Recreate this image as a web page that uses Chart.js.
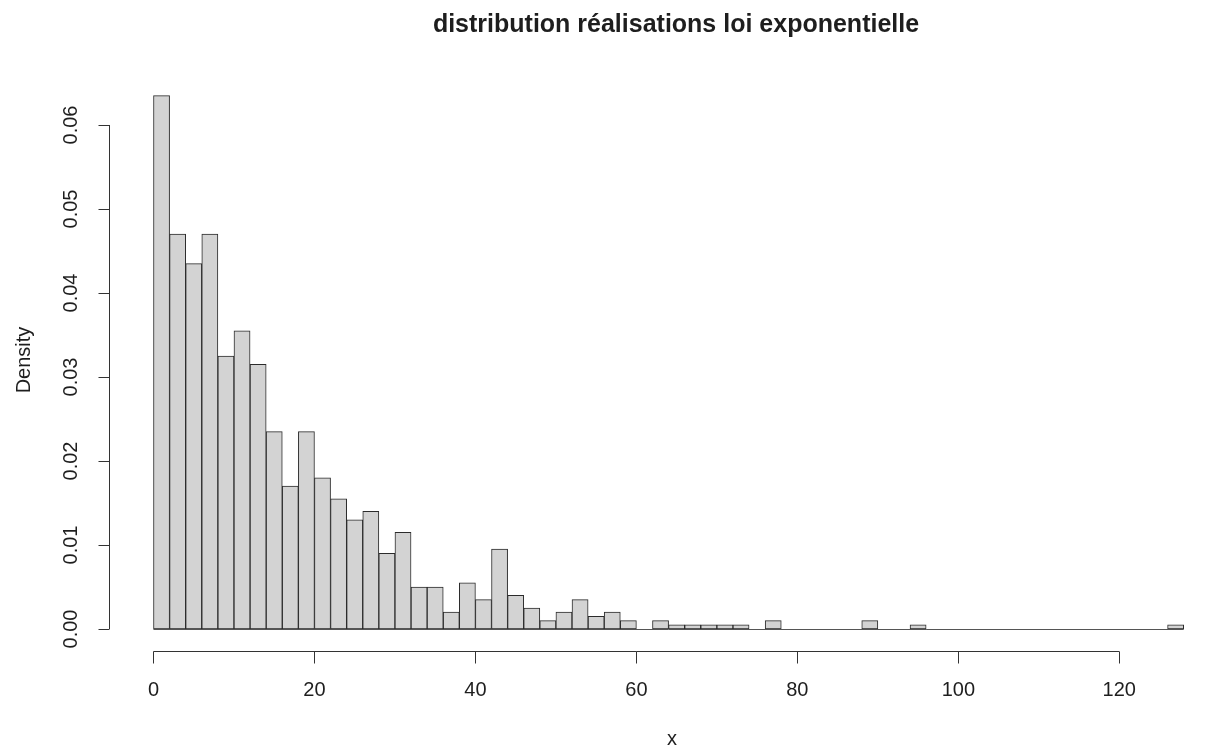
<!DOCTYPE html>
<html>
<head>
<meta charset="utf-8">
<script src="https://cdn.jsdelivr.net/npm/chart.js@4.4.1/dist/chart.umd.min.js"></script>
<style>
html,body{margin:0;padding:0;background:#ffffff;}
#wrap{width:1216px;height:754px;}
</style>
</head>
<body>
<div id="wrap"><canvas id="c" width="1216" height="754"></canvas></div>
<script>
// ---- data ----
const chartTitle = "distribution réalisations loi exponentielle";
const xTitle = "x";
const yTitle = "Density";
const binWidth = 2;
const binLeft = [0,2,4,6,8,10,12,14,16,18,20,22,24,26,28,30,32,34,36,38,40,42,44,46,48,50,52,54,56,58,60,62,64,66,68,70,72,74,76,78,80,82,84,86,88,90,92,94,96,98,100,102,104,106,108,110,112,114,116,118,120,122,124,126];
const density = [0.0635,0.047,0.0435,0.047,0.0325,0.0355,0.0315,0.0235,0.017,0.0235,
                 0.018,0.0155,0.013,0.014,0.009,0.0115,0.005,0.005,0.002,0.0055,
                 0.0035,0.0095,0.004,0.0025,0.001,0.002,0.0035,0.0015,0.002,0.001,
                 0,0.001,0.0005,0.0005,0.0005,0.0005,0.0005,0,0.001,0,
                 0,0,0,0,0.001,0,0,0.0005,0,0,
                 0,0,0,0,0,0,0,0,0,0,
                 0,0,0,0.0005];
const xTickValues = [0,20,40,60,80,100,120];
const xTickLabels = ["0","20","40","60","80","100","120"];
const yTickValues = [0,0.01,0.02,0.03,0.04,0.05,0.06];
const yTickLabels = ["0.00","0.01","0.02","0.03","0.04","0.05","0.06"];

const FONT = '"Liberation Sans", Arial, Helvetica, sans-serif';
const TEXT = '#1e1e1e';
const AXIS = '#333333';

const rAxes = {
  id: 'rAxes',
  afterDatasetsDraw(chart) {
    const ctx = chart.ctx;
    const xs = chart.scales.x, ys = chart.scales.y;
    const ca = chart.chartArea;
    ctx.save();
    // baseline under all bins (R draws zero-height bins as lines)
    ctx.strokeStyle = '#555555';
    ctx.lineWidth = 1;
    ctx.beginPath();
    const y0 = Math.round(ys.getPixelForValue(0)) + 0.5;
    ctx.moveTo(xs.getPixelForValue(binLeft[0]), y0);
    ctx.lineTo(xs.getPixelForValue(binLeft[binLeft.length-1] + binWidth), y0);
    ctx.stroke();

    ctx.strokeStyle = AXIS;
    ctx.lineWidth = 1;
    // x axis
    const xa = Math.round(ca.bottom) + 0.5;
    ctx.beginPath();
    ctx.moveTo(xs.getPixelForValue(xTickValues[0]), xa);
    ctx.lineTo(xs.getPixelForValue(xTickValues[xTickValues.length-1]), xa);
    xTickValues.forEach(v => {
      const px = Math.round(xs.getPixelForValue(v)) + 0.5;
      ctx.moveTo(px, xa);
      ctx.lineTo(px, xa + 12);
    });
    ctx.stroke();
    // y axis
    const ya = Math.round(ca.left) + 0.5;
    ctx.beginPath();
    ctx.moveTo(ya, ys.getPixelForValue(yTickValues[0]));
    ctx.lineTo(ya, ys.getPixelForValue(yTickValues[yTickValues.length-1]));
    yTickValues.forEach(v => {
      const py = Math.round(ys.getPixelForValue(v)) + 0.5;
      ctx.moveTo(ya, py);
      ctx.lineTo(ya - 11, py);
    });
    ctx.stroke();

    ctx.fillStyle = TEXT;
    ctx.font = '20px ' + FONT;
    ctx.textAlign = 'center';
    ctx.textBaseline = 'alphabetic';
    xTickValues.forEach((v, i) => {
      ctx.fillText(xTickLabels[i], xs.getPixelForValue(v), ca.bottom + 45);
    });
    yTickValues.forEach((v, i) => {
      ctx.save();
      ctx.translate(ca.left - 32, ys.getPixelForValue(v));
      ctx.rotate(-Math.PI/2);
      ctx.fillText(yTickLabels[i], 0, 0);
      ctx.restore();
    });
    // axis titles
    ctx.fillText(xTitle, 672, 745);
    ctx.save();
    ctx.translate(30, 360);
    ctx.rotate(-Math.PI/2);
    ctx.fillText(yTitle, 0, 0);
    ctx.restore();
    // main title
    ctx.font = 'bold 25px ' + FONT;
    ctx.fillText(chartTitle, 676, 32);
    ctx.restore();
  }
};

new Chart(document.getElementById('c'), {
  type: 'bar',
  data: {
    datasets: [{
      data: binLeft.map((l, i) => ({ x: l + binWidth/2, y: density[i] })),
      backgroundColor: '#d3d3d3',
      borderColor: '#2b2b2b',
      borderWidth: 1,
      borderSkipped: false,
      barPercentage: 1,
      categoryPercentage: 1,
      grouped: false
    }]
  },
  options: {
    responsive: false,
    animation: false,
    devicePixelRatio: 1,
    layout: { padding: { left: 109, right: 6, top: 80, bottom: 103 } },
    scales: {
      x: { type: 'linear', offset: false, min: -5.529, max: 131.27, display: false },
      y: { type: 'linear', min: -0.002619, max: 0.065357, display: false }
    },
    plugins: { legend: { display: false }, tooltip: { enabled: false }, title: { display: false } }
  },
  plugins: [rAxes]
});
</script>
</body>
</html>
